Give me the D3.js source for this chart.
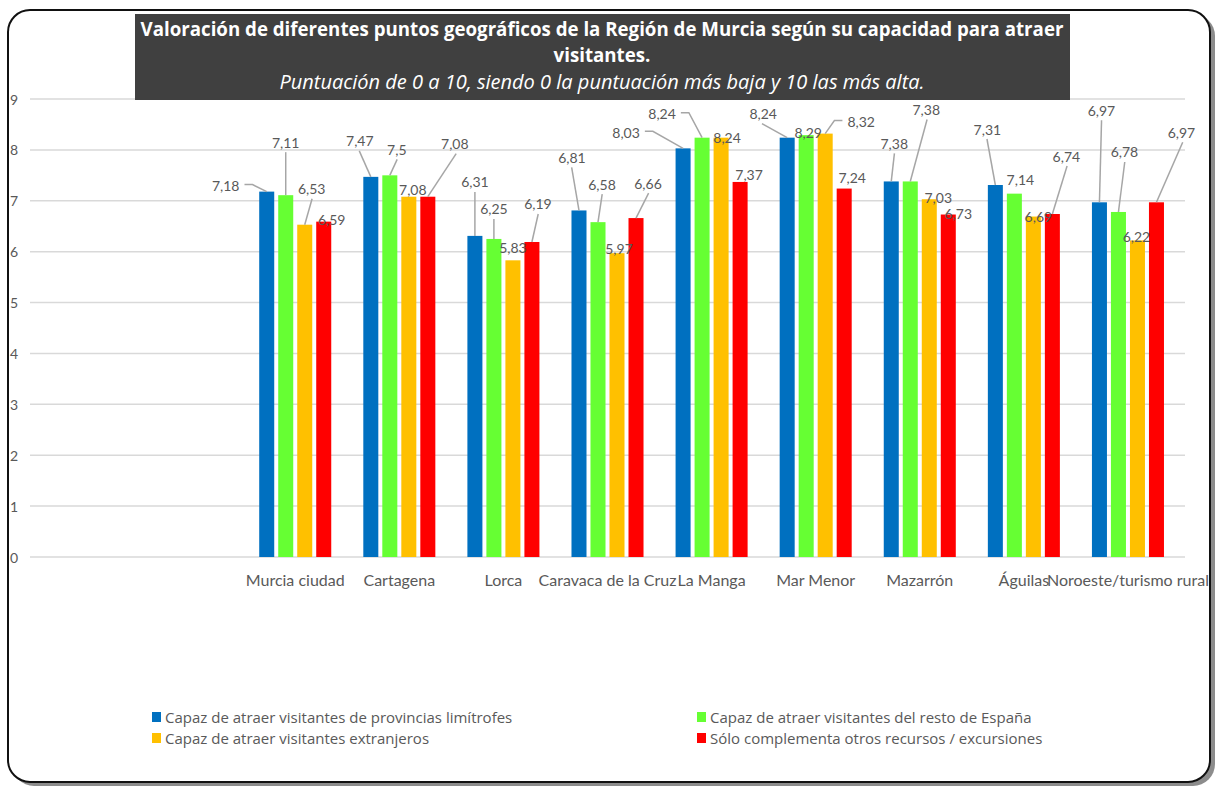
<!DOCTYPE html>
<meta charset="utf-8">
<script src="https://d3js.org/d3.v7.min.js"></script>
<style>
  body { margin: 0; background: #fff; }
  text { font-family: Lato, "Open Sans", sans-serif; }
  .wide { font-family: "Open Sans", Lato, sans-serif; }
</style>
<div id="chart"></div>
<script>
  // categories (two empty slots at the start, as in the original sheet)
  const categories = ["", "", "Murcia ciudad", "Cartagena", "Lorca", "Caravaca de la Cruz",
    "La Manga", "Mar Menor", "Mazarrón", "Águilas", "Noroeste/turismo rural"];

  const seriesNames = [
    "Capaz de atraer visitantes de provincias limítrofes",
    "Capaz de atraer visitantes del resto de España",
    "Capaz de atraer visitantes extranjeros",
    "Sólo complementa otros recursos / excursiones"
  ];
  const seriesColors = ["#0070C0", "#66FF33", "#FFC000", "#FF0000"];

  const limitrofes = [null, null, 7.18, 7.47, 6.31, 6.81, 8.03, 8.24, 7.38, 7.31, 6.97];
  const restoEspana = [null, null, 7.11, 7.5, 6.25, 6.58, 8.24, 8.29, 7.38, 7.14, 6.78];
  const extranjeros = [null, null, 6.53, 7.08, 5.83, 5.97, 8.24, 8.32, 7.03, 6.69, 6.22];
  const complementa = [null, null, 6.59, 7.08, 6.19, 6.66, 7.37, 7.24, 6.73, 6.74, 6.97];
  const seriesValues = [limitrofes, restoEspana, extranjeros, complementa];

  const yTicks = [0, 1, 2, 3, 4, 5, 6, 7, 8, 9];

  // manual label nudges (label centre relative to bar top), like the dragged labels in the sheet
  const nudges = [
    [null, null, [-41, -6], [-11, -36], [0, -54], [-7, -53], [-57, -16], [-24, -24], [3, -38], [-8, -56], [2, -92]],
    [null, null, [0, -53], [7, -26], [0, -30], [4, -38], [-40, -24], [2, -3], [16, -72], [6, -14], [6, -60]],
    [null, null, [7, -36], [4, -7], [0, -13], [2, -5], [6, 0], [36, -12], [9, -2], [5, 0], [-1, -4]],
    [null, null, [8, -2], [27, -53], [6, -38], [12, -35], [9, -7], [8, -11], [10, -1], [14, -58], [25, -70]]
  ];

  const W = 1217, H = 788;
  const svg = d3.select("#chart").append("svg")
    .attr("width", W).attr("height", H);

  // frame with shadow
  svg.append("rect")
    .attr("x", 12).attr("y", 14).attr("width", 1203).attr("height", 772)
    .attr("rx", 22).attr("fill", "#8c8c8c");
  svg.append("rect")
    .attr("x", 8).attr("y", 10).attr("width", 1202).attr("height", 772)
    .attr("rx", 22).attr("fill", "#fff").attr("stroke", "#111").attr("stroke-width", 2);

  const x0 = d3.scaleBand()
    .domain(d3.range(categories.length))
    .range([35, 1180])
    .paddingInner(0.308)
    .paddingOuter(0.154);

  const x1 = d3.scaleBand()
    .domain(d3.range(seriesNames.length))
    .range([0, x0.bandwidth()])
    .paddingInner(0.21);

  const y = d3.scaleLinear().domain([0, 9]).range([557, 99]);

  // gridlines + y labels
  svg.append("g").selectAll("line").data(yTicks).join("line")
    .attr("x1", 30).attr("x2", 1185)
    .attr("y1", d => y(d)).attr("y2", d => y(d))
    .attr("stroke", "#d9d9d9").attr("stroke-width", 1.5);

  svg.append("g").selectAll("text").data(yTicks).join("text")
    .attr("x", 10).attr("y", d => y(d))
    .attr("dominant-baseline", "central")
    .attr("font-size", 14).attr("fill", "#595959")
    .text(d => d);

  // title box
  svg.append("rect")
    .attr("x", 135).attr("y", 14).attr("width", 935).attr("height", 86)
    .attr("fill", "#404040");
  const tx = 602;
  svg.append("text").attr("class", "wide").attr("x", tx).attr("y", 36).attr("text-anchor", "middle")
    .attr("fill", "#fff").attr("font-weight", "bold").attr("font-size", 18.7)
    .text("Valoración de diferentes puntos geográficos de la Región de Murcia según su capacidad para atraer");
  svg.append("text").attr("class", "wide").attr("x", tx).attr("y", 62).attr("text-anchor", "middle")
    .attr("fill", "#fff").attr("font-weight", "bold").attr("font-size", 18.7)
    .text("visitantes.");
  svg.append("text").attr("class", "wide").attr("x", tx).attr("y", 89).attr("text-anchor", "middle")
    .attr("fill", "#fff").attr("font-style", "italic").attr("font-size", 20)
    .text("Puntuación de 0 a 10, siendo 0 la puntuación más baja y 10 las más alta.");

  // bars
  const barData = [];
  seriesValues.forEach((vals, s) => {
    vals.forEach((v, i) => {
      if (v != null) barData.push({ s: s, i: i, v: v, nudge: nudges[s][i] });
    });
  });

  svg.append("g").selectAll("rect").data(barData).join("rect")
    .attr("x", d => x0(d.i) + x1(d.s))
    .attr("y", d => y(d.v))
    .attr("width", x1.bandwidth())
    .attr("height", d => y(0) - y(d.v))
    .attr("fill", d => seriesColors[d.s]);

  // data labels with leader lines
  const labG = svg.append("g");
  const leadG = svg.append("g");
  barData.forEach(d => {
    const bx = x0(d.i) + x1(d.s) + x1.bandwidth() / 2;
    const by = y(d.v);
    const lx = bx + d.nudge[0], ly = by + d.nudge[1];
    const t = labG.append("text")
      .attr("x", lx).attr("y", ly)
      .attr("text-anchor", "middle").attr("dominant-baseline", "central")
      .attr("font-size", 14).attr("fill", "#595959")
      .text(String(d.v).replace(".", ","));
    const hw = t.node().getComputedTextLength() / 2;
    const dist = Math.hypot(d.nudge[0], d.nudge[1]);
    if (dist < 22) return;
    let pts;
    if (Math.abs(d.nudge[0]) > 30) {
      const dir = d.nudge[0] < 0 ? 1 : -1;
      const sx = lx + dir * (hw + 5);
      pts = [[sx, ly - 1], [sx + dir * 8, ly - 1], [bx, by]];
    } else {
      pts = [[lx + d.nudge[0] * 0.05, ly + 10], [bx, by]];
    }
    leadG.append("path")
      .attr("d", d3.line()(pts))
      .attr("fill", "none").attr("stroke", "#a6a6a6").attr("stroke-width", 1.5);
  });

  // category labels
  svg.append("g").selectAll("text").data(categories).join("text")
    .attr("x", (d, i) => x0(i) + x0.bandwidth() / 2)
    .attr("y", 579)
    .attr("text-anchor", "middle").attr("dominant-baseline", "central")
    .attr("font-size", 16).attr("fill", "#595959")
    .text(d => d);

  // legend
  const legPos = [[152, 717], [697, 717], [152, 738], [697, 738]];
  const leg = svg.append("g").selectAll("g").data(seriesNames).join("g")
    .attr("transform", (d, i) => `translate(${legPos[i][0]},${legPos[i][1]})`);
  leg.append("rect").attr("x", 0).attr("y", -5).attr("width", 9).attr("height", 10)
    .attr("fill", (d, i) => seriesColors[i]);
  leg.append("text").attr("class", "wide").attr("x", 13).attr("y", 0)
    .attr("dominant-baseline", "central")
    .attr("font-size", 15).attr("fill", "#595959")
    .text(d => d);
</script>
